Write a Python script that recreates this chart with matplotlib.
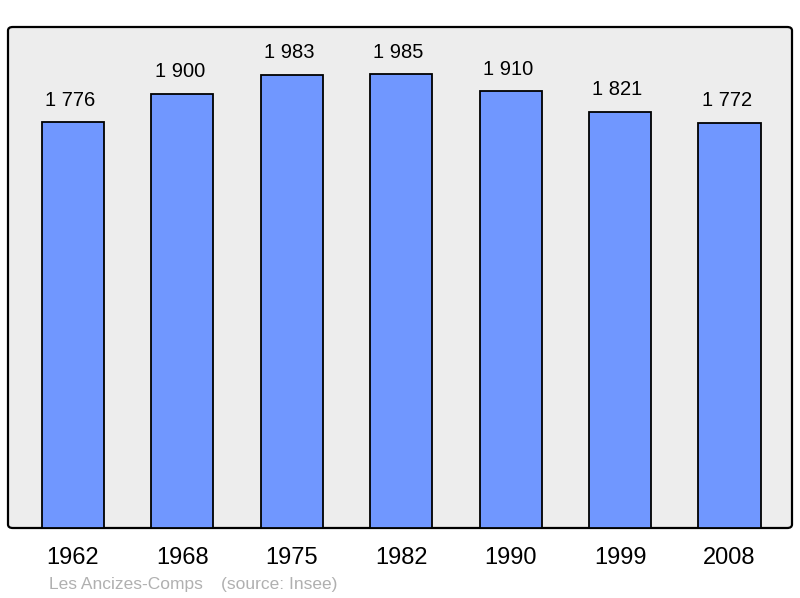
import matplotlib
matplotlib.use('Agg')
import matplotlib.pyplot as plt
from matplotlib.patches import FancyBboxPatch

plt.rcParams['font.family'] = ['Liberation Sans', 'DejaVu Sans']

# Population data
years = ['1962', '1968', '1975', '1982', '1990', '1999', '2008']
population = [1776, 1900, 1983, 1985, 1910, 1821, 1772]
value_labels = ['1 776', '1 900', '1 983', '1 985', '1 910', '1 821', '1 772']

BAR_COLOR = '#7097ff'
BG_COLOR = '#ededed'

fig = plt.figure(figsize=(8, 5.98), dpi=100)

# rounded grey panel behind the bars
panel = FancyBboxPatch((8 / 800, 70 / 598), 784 / 800, 501 / 598,
                       boxstyle='round,pad=0,rounding_size=0.006',
                       transform=fig.transFigure, facecolor=BG_COLOR,
                       edgecolor='black', linewidth=1.6, zorder=-1)
fig.patches.append(panel)

ax = fig.add_axes([8 / 800, 70 / 598, 784 / 800, 501 / 598])
ax.set_zorder(1)
ax.set_facecolor('none')
ax.patch.set_visible(False)
for s in ax.spines.values():
    s.set_visible(False)

x = list(range(len(years)))
bars = ax.bar(x, population, width=0.567, color=BAR_COLOR,
              edgecolor='black', linewidth=1.3)

for bar, lab in zip(bars, value_labels):
    ax.annotate(lab, (bar.get_x() + bar.get_width() / 2, bar.get_height()),
                xytext=(-2, 9), textcoords='offset points',
                ha='center', va='bottom', fontsize=14.5)

ax.set_xlim(-0.594, 6.571)
ax.set_ylim(0, 2192)
ax.set_yticks([])
ax.set_xticks(x)
ax.set_xticklabels(years, fontsize=17)
ax.tick_params(axis='x', length=0, pad=13.5)

fig.text(49 / 800, 1 - 585 / 598, 'Les Ancizes-Comps', color='#b0b0b0',
         fontsize=12.5, va='center', ha='left')
fig.text(221 / 800, 1 - 585 / 598, '(source: Insee)', color='#b0b0b0',
         fontsize=12.5, va='center', ha='left')

fig.savefig('out.png', dpi=100)
